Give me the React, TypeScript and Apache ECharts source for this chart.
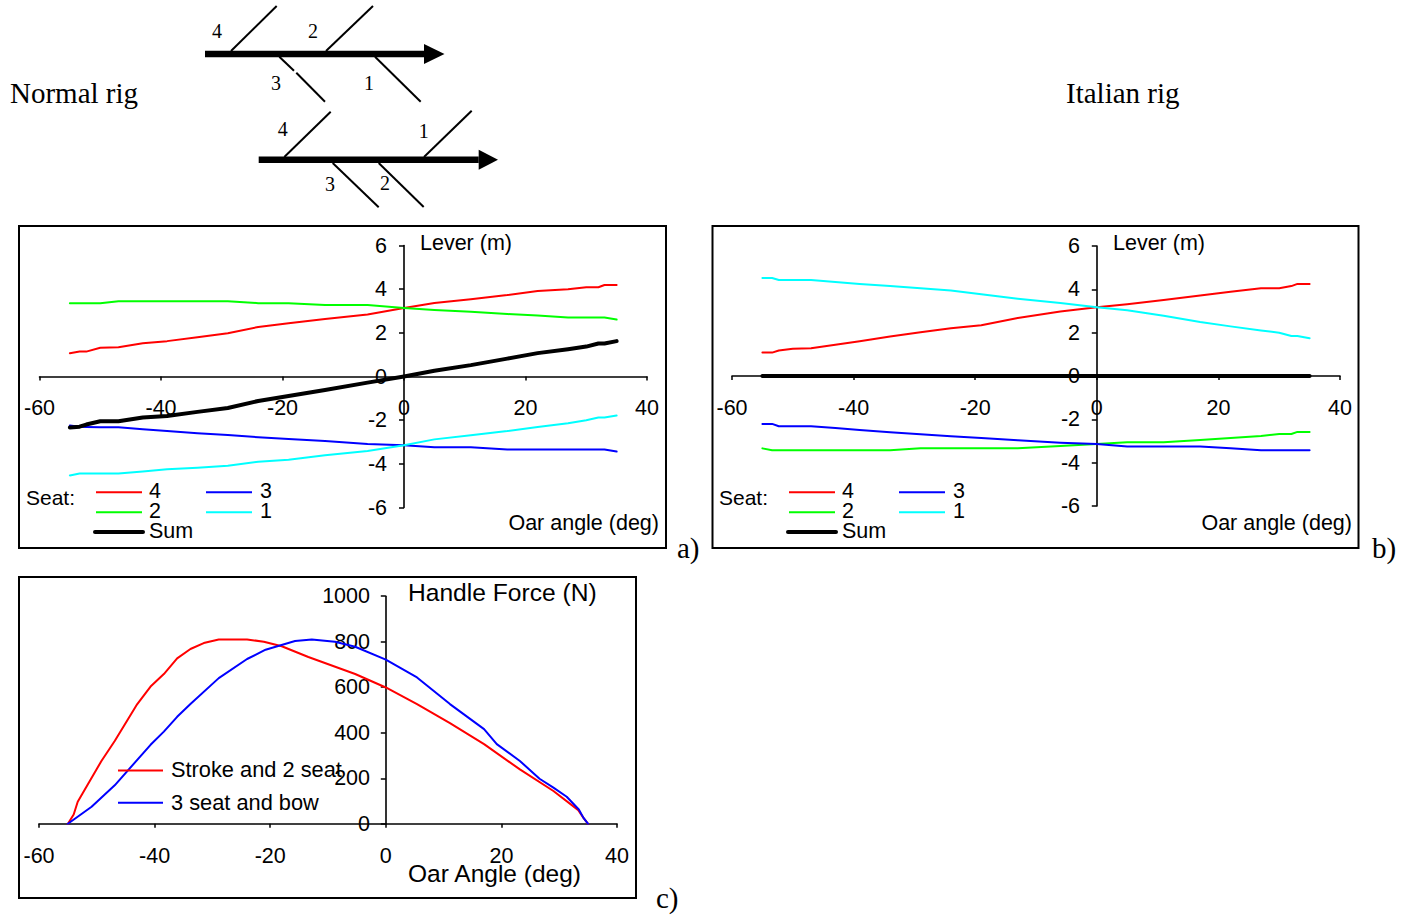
import React, { useEffect, useRef } from "react";
import * as echarts from "echarts";

const RED = "#ff0000";
const GREEN = "#00ff00";
const BLUE = "#0000ff";
const CYAN = "#00ffff";
const SANS = '"Liberation Sans", Arial, sans-serif';
const SERIF = '"Liberation Serif", "Times New Roman", serif';

const angles = [-55, -53.4, -52.3, -50, -47, -43, -39, -34, -29, -24, -19, -13, -6, 0, 5, 11, 17, 22, 27, 30, 32, 33, 35];

const normalSeat4 = [1.07, 1.14, 1.14, 1.32, 1.34, 1.52, 1.62, 1.8, 1.98, 2.27, 2.44, 2.63, 2.84, 3.14, 3.37, 3.54, 3.73, 3.92, 4.0, 4.09, 4.09, 4.19, 4.19];
const normalSeat2 = [3.36, 3.36, 3.36, 3.36, 3.45, 3.45, 3.45, 3.45, 3.45, 3.36, 3.36, 3.27, 3.27, 3.14, 3.05, 2.96, 2.86, 2.79, 2.7, 2.7, 2.7, 2.7, 2.61];
const normalSeat3 = [-2.24, -2.3, -2.31, -2.33, -2.33, -2.42, -2.5, -2.6, -2.68, -2.78, -2.86, -2.95, -3.09, -3.15, -3.24, -3.24, -3.34, -3.34, -3.34, -3.34, -3.34, -3.34, -3.44];
const normalSeat1 = [-4.53, -4.44, -4.44, -4.44, -4.44, -4.35, -4.25, -4.18, -4.09, -3.9, -3.81, -3.61, -3.41, -3.15, -2.88, -2.69, -2.5, -2.31, -2.14, -2.0, -1.88, -1.88, -1.79];
const normalSum = [-2.34, -2.3, -2.2, -2.05, -2.05, -1.88, -1.81, -1.62, -1.44, -1.12, -0.89, -0.62, -0.28, 0, 0.26, 0.52, 0.82, 1.07, 1.25, 1.37, 1.51, 1.51, 1.62];

const italianSeat4 = [1.08, 1.08, 1.18, 1.26, 1.28, 1.44, 1.6, 1.82, 2.02, 2.2, 2.34, 2.68, 2.98, 3.17, 3.31, 3.51, 3.72, 3.89, 4.05, 4.05, 4.15, 4.25, 4.25];
const italianSeat1 = [4.52, 4.52, 4.43, 4.43, 4.43, 4.34, 4.25, 4.15, 4.05, 3.95, 3.77, 3.57, 3.37, 3.17, 3.03, 2.78, 2.49, 2.29, 2.1, 2.0, 1.85, 1.85, 1.74];
const italianSeat3 = [-2.21, -2.21, -2.32, -2.32, -2.32, -2.4, -2.49, -2.6, -2.69, -2.78, -2.86, -2.97, -3.08, -3.14, -3.25, -3.25, -3.25, -3.34, -3.43, -3.43, -3.43, -3.43, -3.43];
const italianSeat2 = [-3.34, -3.43, -3.43, -3.43, -3.43, -3.43, -3.43, -3.43, -3.34, -3.34, -3.34, -3.34, -3.23, -3.14, -3.06, -3.06, -2.95, -2.86, -2.77, -2.68, -2.68, -2.58, -2.58];
const italianSum = [0, 0, 0, 0, 0, 0, 0, 0, 0, 0, 0, 0, 0, 0, 0, 0, 0, 0, 0, 0, 0, 0, 0];

const strokeAngles = [-55, -54, -53.3, -49.2, -46.9, -43, -40.7, -38.4, -36.1, -33.8, -31.5, -28.9, -24, -21.1, -18, -13.4, -5.3, 0, 5.4, 11.1, 17, 23.2, 29, 33.3, 34.2, 35];
const strokeForce = [0, 41, 97, 276, 364, 526, 603, 658, 727, 768, 794, 810, 810, 800, 780, 733, 658, 599, 526, 442, 350, 239, 144, 60, 26, 0];
const bowAngles = [-55, -50.9, -46.9, -40.7, -38.4, -36.1, -33.8, -28.9, -24, -20.8, -15.7, -12.8, -8.8, -5.3, 0, 5.4, 11.1, 17, 19.2, 23.2, 26.6, 29, 31.3, 33.4, 34.2, 35];
const bowForce = [0, 75, 169, 347, 405, 470, 526, 640, 724, 765, 803, 810, 800, 778, 721, 643, 526, 416, 350, 276, 198, 159, 119, 63, 26, 0];

const zip = (xs: number[], ys: number[]) => xs.map((x, i) => [x, ys[i]]);

function lineSeries(idx: number, name: string, xs: number[], ys: number[], color: string, width = 2) {
  return {
    type: "line",
    name,
    xAxisIndex: idx,
    yAxisIndex: idx,
    data: zip(xs, ys),
    showSymbol: false,
    symbol: "none",
    smooth: false,
    silent: true,
    lineStyle: { color, width, cap: "round", join: "round" },
    z: 5,
  };
}

const plain = (v: number) => String(v);

function xAxis(idx: number, margin: number) {
  return {
    type: "value",
    gridIndex: idx,
    min: -60,
    max: 40,
    interval: 20,
    splitLine: { show: false },
    axisLine: { onZero: true, lineStyle: { color: "#000", width: 1.6 } },
    axisTick: { show: true, length: 4, lineStyle: { color: "#000", width: 1.5 } },
    axisLabel: { show: true, margin, formatter: plain, color: "#000", fontFamily: SANS, fontSize: 21.5, showMinLabel: true, showMaxLabel: true },
  };
}

function yAxis(idx: number, min: number, max: number, interval: number, margin: number) {
  return {
    type: "value",
    gridIndex: idx,
    min,
    max,
    interval,
    splitLine: { show: false },
    axisLine: { onZero: true, lineStyle: { color: "#000", width: 1.6 } },
    axisTick: { show: true, length: 5, lineStyle: { color: "#000", width: 1.5 } },
    axisLabel: { show: true, margin, formatter: plain, color: "#000", fontFamily: SANS, fontSize: 21.5, showMinLabel: true, showMaxLabel: true },
  };
}

function txt(text: string, x: number, y: number, size: number, family = SANS, align = "left") {
  return {
    type: "text",
    z: 6,
    silent: true,
    style: { text, x, y, fill: "#000", font: `${size}px ${family}`, align, verticalAlign: "middle" },
  };
}

function seg(x1: number, y1: number, x2: number, y2: number, color = "#000", lineWidth = 2) {
  return {
    type: "line",
    z: 6,
    silent: true,
    shape: { x1, y1, x2, y2 },
    style: { stroke: color, lineWidth },
  };
}

function frame(x: number, y: number, width: number, height: number) {
  return {
    type: "rect",
    z: 1,
    silent: true,
    shape: { x, y, width, height },
    style: { fill: "none", stroke: "#000", lineWidth: 2 },
  };
}

function arrow(x1: number, x2: number, tip: number, y: number) {
  return [
    seg(x1, y, x2, y, "#000", 6.5),
    {
      type: "polygon",
      z: 6,
      silent: true,
      shape: { points: [[x2, y - 10], [tip, y], [x2, y + 10]] },
      style: { fill: "#000" },
    },
  ];
}

function seatLegend(dx: number, colors: string[]) {
  return [
    txt("Seat:", 26 + dx, 497, 21),
    seg(96 + dx, 492.3, 142 + dx, 492.3, colors[0]),
    txt("4", 149 + dx, 491, 21.5),
    seg(206 + dx, 492.3, 252 + dx, 492.3, colors[1]),
    txt("3", 260 + dx, 491, 21.5),
    seg(96 + dx, 512.3, 142 + dx, 512.3, colors[2]),
    txt("2", 149 + dx, 511, 21.5),
    seg(206 + dx, 512.3, 252 + dx, 512.3, colors[3]),
    txt("1", 260 + dx, 511, 21.5),
    { ...seg(95 + dx, 532, 143 + dx, 532, "#000", 4), style: { stroke: "#000", lineWidth: 4, lineCap: "round" } },
    txt("Sum", 149 + dx, 531, 21.5),
    txt("Lever (m)", 420 + dx, 243, 21.5),
    txt("Oar angle (deg)", 659 + dx, 523, 21.5, SANS, "right"),
  ];
}

const graphics = [
  txt("Normal rig", 10, 93, 29, SERIF),
  txt("Italian rig", 1066, 93, 29, SERIF),
  ...arrow(205, 424, 444.5, 54),
  seg(231, 51, 276.7, 6),
  seg(326, 51, 373, 6),
  seg(279.3, 56.7, 294, 70.7),
  seg(296.3, 72.7, 325, 101.7),
  seg(375, 56.7, 420.7, 101.7),
  txt("4", 217, 30.5, 20, SERIF, "center"),
  txt("2", 313, 31, 20, SERIF, "center"),
  txt("3", 276, 83, 20, SERIF, "center"),
  txt("1", 369, 83, 20, SERIF, "center"),
  ...arrow(258.7, 478.7, 498, 159.7),
  seg(284.3, 157, 330.7, 111.7),
  seg(424, 157, 471.7, 110.7),
  seg(332.7, 163, 378.7, 207.3),
  seg(378.7, 163, 423.7, 207),
  txt("4", 282.7, 129, 20, SERIF, "center"),
  txt("1", 423.7, 131, 20, SERIF, "center"),
  txt("3", 330, 184, 20, SERIF, "center"),
  txt("2", 385, 183, 20, SERIF, "center"),
  frame(19, 226, 647, 322),
  frame(712.5, 226, 646, 322),
  frame(19, 577, 617, 321),
  ...seatLegend(0, [RED, BLUE, GREEN, CYAN]),
  ...seatLegend(693, [RED, BLUE, GREEN, CYAN]),
  txt("a)", 677, 548, 29, SERIF),
  txt("b)", 1372, 548, 29, SERIF),
  txt("c)", 656, 898, 29, SERIF),
  seg(118, 770.5, 163, 770.5, RED),
  seg(118, 802.7, 163, 802.7, BLUE),
  txt("Stroke and 2 seat", 171, 769.5, 21.8),
  txt("3 seat and bow", 171, 802, 21.8),
  txt("Handle Force (N)", 408, 592.5, 24.6),
  txt("Oar Angle (deg)", 408, 873, 24.5),
];

const option = {
  animation: false,
  backgroundColor: "#fff",
  grid: [
    { left: 39.5, top: 245.5, width: 607.5, height: 262, outerBoundsMode: "none" },
    { left: 732, top: 246, width: 608, height: 260, outerBoundsMode: "none" },
    { left: 39, top: 596.2, width: 578, height: 227.6, outerBoundsMode: "none" },
  ],
  xAxis: [xAxis(0, -111), xAxis(1, -109), xAxis(2, 21)],
  yAxis: [yAxis(0, -6, 6, 2, -347.5), yAxis(1, -6, 6, 2, -348), yAxis(2, 0, 1000, 200, -331)],
  graphic: { elements: graphics },
  series: [
    lineSeries(0, "4", angles, normalSeat4, RED),
    lineSeries(0, "2", angles, normalSeat2, GREEN),
    lineSeries(0, "3", angles, normalSeat3, BLUE),
    lineSeries(0, "1", angles, normalSeat1, CYAN),
    lineSeries(0, "Sum", angles, normalSum, "#000", 4),
    lineSeries(1, "4", angles, italianSeat4, RED),
    lineSeries(1, "2", angles, italianSeat2, GREEN),
    lineSeries(1, "3", angles, italianSeat3, BLUE),
    lineSeries(1, "1", angles, italianSeat1, CYAN),
    lineSeries(1, "Sum", angles, italianSum, "#000", 4),
    lineSeries(2, "Stroke and 2 seat", strokeAngles, strokeForce, RED),
    lineSeries(2, "3 seat and bow", bowAngles, bowForce, BLUE),
  ],
};

export default function App() {
  const ref = useRef<HTMLDivElement>(null);
  useEffect(() => {
    const chart = echarts.init(ref.current!, undefined, { renderer: "svg" });
    chart.setOption(option as any);
    return () => chart.dispose();
  }, []);
  return <div ref={ref} style={{ position: "fixed", left: 0, top: 0, width: 1410, height: 915, background: "#fff" }} />;
}
